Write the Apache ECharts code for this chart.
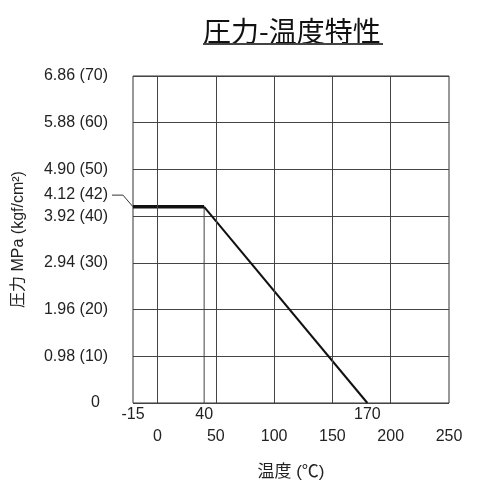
<!DOCTYPE html>
<html>
<head>
<meta charset="utf-8">
<script src="https://cdn.jsdelivr.net/npm/echarts@6/dist/echarts.min.js"></script>
<style>html,body{margin:0;padding:0;background:#fff}#c{width:500px;height:500px}</style>
</head>
<body>
<div id="c"></div>
<script>
// ---- data ----
const titleText = '圧力-温度特性';
const xName = '温度 (℃)';
const yName = '圧力 MPa (kgf/cm²)';
const xMin = -21, xMax = 250;           // axis range (°C)
const yMin = 0, yMax = 70, yStep = 10;  // kgf/cm²
const yTickLabels = ['0', '0.98 (10)', '1.96 (20)', '2.94 (30)', '3.92 (40)', '4.90 (50)', '5.88 (60)', '6.86 (70)'];
const xBottomTicks = [0, 50, 100, 150, 200, 250];
const xTopTickPos = [-21, 40, 180];
const xTopTickLabels = ['-15', '40', '170'];
const vGrid = [0, 50, 100, 150, 200];
const flatT = [-21, 40];   const flatP = [42, 42];
const slopeT = [40, 180];  const slopeP = [42, 0];
const dropT = [40, 40];    const dropP = [0, 42];
// leader for the 4.12 (42) label, drawn in a narrow side panel left of the plot
const leaderMin = -40.7;
const leaderT = [-39, -29.6, -21]; const leaderP = [44.5, 44.5, 42];
const leaderLabelValue = 42;
const leaderLabel = '4.12 (42)';

const zip = (a, b) => a.map((v, i) => [v, b[i]]);
const FONT = "'Liberation Sans', 'Noto Sans CJK JP', sans-serif";
const TXT = '#222';
const GRIDC = '#444';

const chart = echarts.init(document.getElementById('c'));
chart.setOption({
  animation: false,
  backgroundColor: '#fff',
  textStyle: { fontFamily: FONT },
  title: {
    text: '{t|' + titleText + '}\n{u|}',
    left: 203, top: 19, padding: 0,
    textStyle: {
      rich: {
        t: { fontSize: 28, fontWeight: 'normal', fontFamily: "'Noto Sans CJK JP', sans-serif", color: '#111', lineHeight: 24 },
        u: { width: 180, height: 2, backgroundColor: '#444', lineHeight: 2 }
      }
    }
  },
  grid: [
    { left: 133, right: 51, top: 76, bottom: 97, show: true, borderColor: '#333', borderWidth: 1 },
    { left: 110, width: 23, top: 76, bottom: 97, show: false }
  ],
  xAxis: [
    {
      type: 'value', min: xMin, max: xMax, position: 'bottom', gridIndex: 0,
      name: xName, nameLocation: 'middle', nameGap: 61,
      nameTextStyle: { fontSize: 17, color: TXT, fontFamily: FONT },
      axisLine: { show: false }, axisTick: { show: false }, splitLine: { show: false },
      axisLabel: { customValues: xBottomTicks, fontSize: 16, color: TXT, margin: 26, fontFamily: FONT }
    },
    {
      type: 'value', min: xMin, max: xMax, position: 'bottom', gridIndex: 0,
      axisLine: { show: false }, axisTick: { show: false }, splitLine: { show: false },
      axisLabel: {
        customValues: xTopTickPos, fontSize: 16, color: TXT, margin: 4, fontFamily: FONT,
        formatter: v => { const i = xTopTickPos.indexOf(v); return i >= 0 ? xTopTickLabels[i] : ''; }
      }
    },
    {
      type: 'value', min: leaderMin, max: xMin, gridIndex: 1, show: false
    }
  ],
  yAxis: [
    {
      type: 'value', min: yMin, max: yMax, interval: yStep, gridIndex: 0,
      name: yName, nameLocation: 'middle', nameGap: 106, nameRotate: 90,
      nameTextStyle: { fontSize: 16, color: TXT, fontFamily: FONT },
      axisLine: { show: false }, axisTick: { show: false },
      splitLine: { show: true, lineStyle: { color: GRIDC, width: 1 } },
      axisLabel: {
        fontSize: 16, color: TXT, margin: 25, fontFamily: FONT,
        formatter: v => { const i = Math.round(v / yStep); return i === 0 ? '{z|' + yTickLabels[0] + '}' : yTickLabels[i]; },
        rich: { z: { fontSize: 16, color: TXT, padding: [0, 8, 0, 0], fontFamily: FONT } }
      }
    },
    {
      type: 'value', min: yMin, max: yMax, gridIndex: 1, position: 'left',
      axisLine: { show: false }, axisTick: { show: false }, splitLine: { show: false },
      axisLabel: {
        customValues: [leaderLabelValue], margin: 2, fontFamily: FONT,
        formatter: () => '{a|' + leaderLabel + '}',
        rich: { a: { fontSize: 16, color: TXT, fontFamily: FONT, padding: [0, 0, 24, 0] } }
      }
    }
  ],
  series: [
    {
      type: 'line', data: zip(dropT, dropP), symbol: 'none', silent: true,
      lineStyle: { color: GRIDC, width: 1 },
      markLine: {
        silent: true, symbol: 'none', label: { show: false },
        lineStyle: { color: GRIDC, width: 1, type: 'solid' },
        data: vGrid.map(v => ({ xAxis: v }))
      }
    },
    {
      type: 'line', data: zip(flatT, flatP), symbol: 'none', silent: true,
      lineStyle: { color: '#111', width: 3.5 }
    },
    {
      type: 'line', data: zip(slopeT, slopeP), symbol: 'none', silent: true,
      lineStyle: { color: '#111', width: 2 }
    },
    {
      type: 'line', xAxisIndex: 2, yAxisIndex: 1, data: zip(leaderT, leaderP), symbol: 'none', silent: true,
      lineStyle: { color: '#333', width: 1 }
    }
  ]
});
</script>
</body>
</html>
